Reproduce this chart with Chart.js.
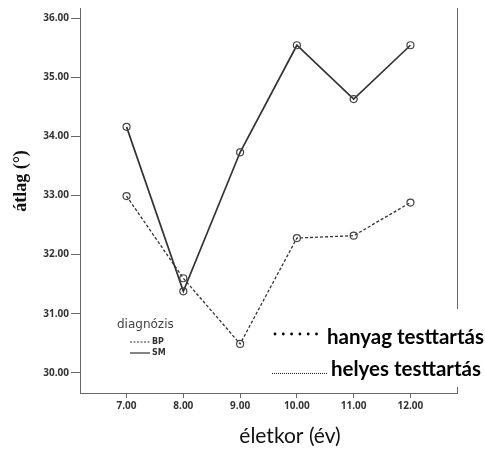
<!DOCTYPE html>
<html>
<head>
<meta charset="utf-8">
<script src="https://cdn.jsdelivr.net/npm/chart.js@4/dist/chart.umd.min.js"></script>
<style>
  html, body { margin: 0; padding: 0; background: #fff; }
  canvas { display: block; }
</style>
</head>
<body>
<canvas id="chart" width="485" height="450"></canvas>
<script>
// életkor (év) categories and mean angle per diagnosis group
const ages = [7, 8, 9, 10, 11, 12];
const bpValues = [32.99, 31.60, 30.49, 32.28, 32.32, 32.88];
const smValues = [34.16, 31.38, 33.73, 35.54, 34.63, 35.54];
const yTicks = [30, 31, 32, 33, 34, 35, 36];

const axisColor = '#666';
const lineColor = '#333';
const tickFont = { family: 'Open Sans', size: 10, weight: 'bold' };

function toPoints(values) {
    return ages.map((a, i) => ({ x: a, y: values[i] }));
}

// annotations: axis titles, small legend, right frame and the pasted label box
const extras = {
    id: 'extras',
    afterDraw(chart) {
        const ctx = chart.ctx;
        const area = chart.chartArea;
        ctx.save();

        // right frame line
        ctx.strokeStyle = axisColor;
        ctx.lineWidth = 1;
        ctx.beginPath();
        ctx.moveTo(area.right + 0.5, area.top);
        ctx.lineTo(area.right + 0.5, area.bottom);
        ctx.stroke();

        // y title
        ctx.fillStyle = '#111';
        ctx.font = 'bold 18px "Liberation Serif"';
        ctx.textAlign = 'center';
        ctx.textBaseline = 'middle';
        ctx.translate(21, 181);
        ctx.rotate(-Math.PI / 2);
        ctx.fillText('átlag (°)', 0, 0);
        ctx.setTransform(1, 0, 0, 1, 0, 0);

        // x title
        ctx.font = '21px Lato';
        ctx.fillText('életkor (év)', 290, 436);

        // legend for diagnosis groups
        ctx.textAlign = 'left';
        ctx.fillStyle = '#444';
        ctx.font = '12px "DejaVu Sans"';
        ctx.fillText('diagnózis', 117, 325);
        ctx.font = 'bold 8px "DejaVu Sans"';
        const legendRows = [
            { label: 'BP', dash: [2, 1.5], y: 342 },
            { label: 'SM', dash: [], y: 353 }
        ];
        legendRows.forEach(r => {
            ctx.strokeStyle = lineColor;
            ctx.lineWidth = 1.2;
            ctx.setLineDash(r.dash);
            ctx.beginPath();
            ctx.moveTo(130, r.y);
            ctx.lineTo(150, r.y);
            ctx.stroke();
            ctx.setLineDash([]);
            ctx.fillStyle = '#333';
            ctx.fillText(r.label, 152, r.y);
        });

        // label box laid over the lower right corner
        ctx.fillStyle = '#fff';
        ctx.fillRect(265, 309, 220, 78);
        ctx.fillStyle = '#000';
        ctx.font = 'bold 20.5px Lato';
        ctx.textBaseline = 'middle';
        ctx.fillText('hanyag testtartás', 327, 337);
        ctx.fillText('helyes testtartás', 331, 369);
        // dotted sample for the first label
        for (let i = 0; i < 6; i++) {
            ctx.beginPath();
            ctx.arc(275 + i * 8.3, 334, 1.4, 0, Math.PI * 2);
            ctx.fill();
        }
        // fine dotted sample for the second label
        ctx.strokeStyle = '#222';
        ctx.lineWidth = 1;
        ctx.setLineDash([1, 1]);
        ctx.beginPath();
        ctx.moveTo(272, 373.5);
        ctx.lineTo(327, 373.5);
        ctx.stroke();
        ctx.restore();
    }
};

new Chart(document.getElementById('chart'), {
    type: 'line',
    data: {
        datasets: [
            {
                label: 'BP',
                data: toPoints(bpValues),
                borderColor: lineColor,
                borderWidth: 1.3,
                borderDash: [3, 2],
                pointRadius: 3.5,
                pointBorderColor: '#444',
                pointBackgroundColor: 'rgba(0,0,0,0)',
                pointBorderWidth: 1.2,
                tension: 0
            },
            {
                label: 'SM',
                data: toPoints(smValues),
                borderColor: lineColor,
                borderWidth: 1.7,
                pointRadius: 3.5,
                pointBorderColor: '#444',
                pointBackgroundColor: 'rgba(0,0,0,0)',
                pointBorderWidth: 1.2,
                tension: 0
            }
        ]
    },
    options: {
        responsive: false,
        animation: false,
        devicePixelRatio: 1,
        layout: { padding: { left: 0, top: 7, right: 28, bottom: 0 } },
        plugins: {
            legend: { display: false },
            tooltip: { enabled: false }
        },
        scales: {
            x: {
                type: 'linear',
                min: 6.18,
                max: 12.82,
                afterBuildTicks: s => { s.ticks = ages.map(v => ({ value: v })); },
                afterFit: s => { s.height = 57; },
                grid: { drawOnChartArea: false, color: axisColor, tickLength: 5 },
                border: { color: axisColor, width: 1 },
                ticks: {
                    color: '#333',
                    font: tickFont,
                    padding: 2,
                    maxRotation: 0,
                    callback: v => v.toFixed(2)
                }
            },
            y: {
                min: 29.66,
                max: 36.17,
                afterBuildTicks: s => { s.ticks = yTicks.map(v => ({ value: v })); },
                afterFit: s => { s.width = 80; },
                grid: { drawOnChartArea: false, color: axisColor, tickLength: 9 },
                border: { color: axisColor, width: 1 },
                ticks: {
                    color: '#333',
                    font: tickFont,
                    padding: 2,
                    callback: v => v.toFixed(2)
                }
            }
        }
    },
    plugins: [extras]
});
</script>
</body>
</html>
